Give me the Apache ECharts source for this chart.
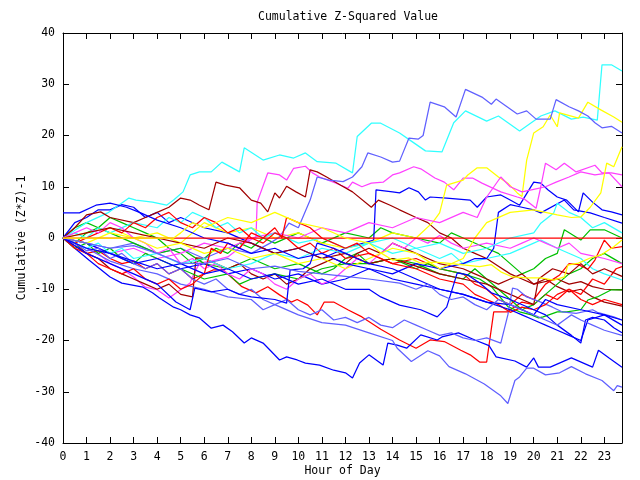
<!DOCTYPE html>
<html><head><meta charset="utf-8">
<script src="https://cdn.jsdelivr.net/npm/echarts@6/dist/echarts.min.js"></script>
<style>html,body{margin:0;padding:0;background:#fff}#c{width:640px;height:480px}</style>
</head><body><div id="c"></div>
<script>
// x = hour of day, y = cumulative (Z*Z)-1
const xTicks = [0,1,2,3,4,5,6,7,8,9,10,11,12,13,14,15,16,17,18,19,20,21,22,23];
const yTicks = [-40,-30,-20,-10,0,10,20,30,40];

const R0 = [[0,0],[4,0],[8,0],[12,0],[16,0],[20,0],[23.75,0]];
const G1 = [[0,0],[0.5,2],[1,3],[1.5,2],[2,4],[2.5,3],[3,2],[3.5,1],[4,0],[4.5,-2],[5,-3],[5.5,-5],[6,-4],[6.5,-2],[7,-3],[7.5,-1],[8,-2],[8.5,0],[9,-1],[10,1],[10.5,0],[11,-1],[12,1],[13,0],[13.5,2],[14,1],[15,0],[16,-1],[16.5,1],[17,0],[18,-2],[18.5,-3],[19,-5],[19.5,-7],[20,-6],[20.5,-4],[21,-3],[21.3,1.6],[22,-0.4],[22.4,1.6],[23,1.6],[23.75,0]];
const B2 = [[0,0],[0.5,3],[1,4],[1.5,5.5],[2,5.5],[2.5,6.5],[3,6],[3.5,4],[4,5],[4.5,3],[5,4],[6,2],[7,1],[8,-1],[9,-3],[10,-2],[11,-4],[12,-2],[13.2,-0.4],[13.3,9.4],[14,9],[14.3,8.8],[14.7,9.8],[15.1,9],[15.4,7.4],[15.6,8],[16.3,7.8],[17.3,7.4],[17.6,6],[18,8],[18.6,8.4],[19,7.4],[19.4,6.4],[20,10.9],[20.3,10.7],[20.6,9.4],[21,8],[21.4,7.4],[21.9,5.1],[22.1,8.8],[22.5,7],[22.9,5.5],[23.3,5.1],[23.75,4.5]];
const M1 = [[0,0],[0.5,-1],[1,-2],[1.5,-3],[2,-5],[2.5,-6],[3,-7.6],[3.5,-9.6],[4,-10.1],[4.5,-11.7],[5,-10.1],[5.4,-8.8],[5.5,-7.6],[5.8,-4.9],[6.3,-4.5],[7,-3.7],[7.4,-2.3],[7.7,-1],[8.2,0.2],[8.25,7],[8.7,12.7],[9.2,12.3],[9.5,11.3],[9.8,13.6],[10.3,14],[10.6,12.7],[10.9,11.9],[11.6,10.7],[12.1,9.7],[12.3,10.9],[12.7,10],[13.1,10.7],[13.6,10.9],[14,12.3],[14.3,12.7],[14.9,13.9],[15.2,13.5],[15.8,11.7],[16.2,10.9],[16.6,9.4],[17,11.7],[17.4,11.7],[17.8,10.7],[18.6,9],[19.3,8],[19.6,7.6],[20.1,5.8],[20.3,10],[20.5,14.6],[20.95,13.3],[21.3,14.6],[21.8,12.9],[22.6,14.2],[22.9,12.7],[23.3,12.7],[23.75,12.3]];
const C1 = [[0,0],[0.5,1.5],[1,3],[1.9,4.9],[2.8,7.8],[3.1,7.4],[3.8,7],[4.4,6.4],[4.7,7.4],[5.1,9],[5.4,12.3],[5.8,12.9],[6.3,12.9],[6.75,14.8],[7.5,12.9],[7.7,17.6],[8.5,15.2],[9.2,16.2],[9.8,15.6],[10.3,16.6],[10.8,14.9],[11.6,14.6],[12.3,12.7],[12.5,19.8],[13.1,22.4],[13.5,22.4],[14.3,20.5],[14.8,18.9],[15.4,17],[16.1,16.8],[16.6,22.5],[17.1,24.8],[18,22.8],[18.5,23.8],[19.4,20.9],[20.3,23.8],[20.9,24.8],[21.6,23.2],[22.1,23.6],[22.7,23],[22.9,33.8],[23.3,33.8],[23.75,32.6]];
const DR1 = [[0,0],[0.5,2],[1,4.5],[1.6,5.1],[2,4],[3,3],[3.5,4],[4,5],[4.5,6],[5,7.8],[5.4,7.4],[5.8,6.4],[6.2,5.5],[6.5,10.9],[6.9,10.3],[7.5,9.8],[8,7.4],[8.4,6.8],[8.7,5.1],[9,8.8],[9.2,7.8],[9.5,10.1],[9.9,9],[10.3,8],[10.5,13.3],[10.8,12.9],[11.2,11.9],[11.8,10.3],[12.3,9],[13.1,6],[13.4,7.4],[13.9,6.4],[14.3,5.5],[15,4],[15.5,3],[16,1],[16.5,0],[17,-2],[17.5,-3],[18,-4],[18.5,-5.5],[19,-7],[19.5,-8],[20,-9],[20.5,-8],[21,-9.5],[21.5,-10.5],[22,-10],[22.5,-11.5],[23,-12.5],[23.75,-13.3]];
const Y1 = [[0,0],[1,1],[2,2],[3,0],[4,1],[5,-1],[6,3],[7,1],[8,2],[9,0],[10,1],[11,-1],[12,-2],[13,-1],[14,1],[15,0],[15.7,3],[16,4.9],[16.3,10.3],[17,11.3],[17.2,12.3],[17.6,13.7],[18,13.7],[18.5,11.9],[18.9,10.7],[19.3,8.8],[19.5,8.1],[19.7,15.2],[20,20.5],[20.4,21.7],[20.7,24],[21,21.7],[21.1,24.4],[21.9,23.4],[22.3,26.5],[22.85,25],[23.4,23.6],[23.75,22.6]];
const SB1 = [[0,0],[1,-1],[2,-2],[3,-1],[4,-3],[5,-2],[6,-4],[7,-2],[8,-3],[8.8,-1],[9.2,0.2],[9.6,2.9],[10,2],[10.5,7.4],[10.8,11.9],[11.3,11.3],[11.9,11],[12.3,11.9],[12.7,13.9],[12.95,16.6],[13.5,15.8],[14,14.8],[14.3,15],[14.7,19.5],[15.1,19.3],[15.3,20],[15.6,26.5],[16.2,25.6],[16.7,23.6],[17.1,29],[17.8,27.5],[18.2,26.1],[18.4,27.1],[19.3,24.2],[19.7,24.8],[20.1,23.2],[20.7,23.2],[20.95,27],[21.5,25.6],[21.9,24.8],[22.3,23.8],[22.6,22.5],[22.9,21.5],[23.3,21.8],[23.75,20.5]];
const R1 = [[0,0],[0.5,-1.5],[1,-3],[1.5,-2.5],[2,-4],[2.5,-5],[3,-4.5],[3.5,-6],[4,-5],[4.5,-7],[5,-6],[5.5,-8],[6,-7],[6.4,-6.2],[6.8,-6.2],[7.6,-9.5],[8.2,-10.7],[8.7,-9.5],[9.2,-11.1],[9.7,-12.5],[9.95,-12],[10.4,-13.1],[10.8,-15],[11.1,-12.5],[11.5,-12.5],[12.1,-14],[12.7,-15.4],[13.5,-17.8],[14.3,-19.9],[15,-21.5],[15.6,-19.9],[16.2,-20.2],[16.9,-21.9],[17.3,-22.8],[17.7,-24.2],[18,-24.2],[18.3,-14.4],[18.9,-14.4],[19.1,-13.7],[19.5,-12.5],[20,-13],[20.5,-11],[21,-12],[21.5,-10],[22,-11],[22.5,-8],[23,-9],[23.5,-6],[23.75,-5.6]];
const G2 = [[0,0],[0.5,-1],[1,1],[1.5,2],[2,1],[3,-1],[4,-3],[5,-2],[6,-5],[7,-6],[8,-4],[9,-6],[10,-5],[11,-7],[11.5,-6],[12,-4],[12.5,-3],[13,-5],[14,-4],[15,-5],[16,-7],[17,-8],[17.5,-6],[18,-8],[18.5,-10],[19,-12],[19.5,-14],[20,-13],[20.5,-11],[21,-9],[21.5,-7],[22,-6],[22.5,-4],[23,-3],[23.75,-5]];
const B1 = [[0,0],[0.5,-2],[1.1,-4.3],[2,-7.6],[2.5,-8.8],[3.4,-9.6],[3.8,-10.7],[4.1,-11.7],[4.7,-13.5],[5,-14],[5.4,-15],[5.8,-15.6],[6.3,-17.6],[6.8,-17],[7.2,-18.3],[7.7,-20.5],[8,-19.5],[8.5,-20.5],[8.8,-21.9],[9.2,-23.8],[9.5,-23.2],[9.95,-23.8],[10.3,-24.4],[10.9,-24.8],[11.5,-25.8],[12,-26.3],[12.3,-27.3],[12.6,-24.4],[13,-22.8],[13.6,-24.8],[13.8,-20.5],[14.2,-20.9],[14.6,-21.5],[15.2,-18.9],[15.9,-19.9],[16.1,-19.3],[16.8,-18.5],[17.5,-19.9],[18.1,-21],[18.4,-23.2],[19.2,-24],[19.7,-25.2],[20,-23.4],[20.2,-25.2],[20.7,-25.2],[21.6,-23.4],[22.5,-25.2],[22.75,-21.9],[23.2,-23.4],[23.75,-25.2]];
const M2 = [[0,0],[1,-1],[2,-3],[3,-2],[4,-4],[5,-3],[6,-1],[7,-2],[8,0],[9,1],[10,0],[11,2],[12,1],[13,3],[14,2],[15,4],[16,3],[17,5],[17.6,4],[18,8],[18.6,11.9],[19,10],[19.5,9],[20,9.5],[20.5,10],[20.95,10.9],[21.5,11.9],[22,12.9],[22.6,12.3],[23.2,12.7],[23.75,10]];
const C2 = [[0,0],[0.5,1],[1,0],[1.5,2],[2,1],[3,3],[4,2],[4.5,4],[5,3],[5.5,5],[6,4],[6.5,2],[7,3],[7.5,1],[8,2],[8.5,0],[9,1],[10,-1],[11,0],[12,-2],[13,-1],[14,-3],[15,-2],[16,-4],[16.5,-3],[17,-5],[18,-4],[19,-3],[20,-1],[20.3,-0.4],[21,-2],[22,-4],[22.5,-6],[23,-7],[23.75,-8.2]];
const DR2 = [[0,0],[0.5,-1],[1,-3],[1.5,-4],[2,-6],[2.5,-7],[3,-8],[3.5,-9],[4,-10],[4.5,-9],[5,-11],[5.5,-11.5],[5.65,-3.9],[6,-4],[6.5,-5],[7,-6],[7.5,-5],[8,-7],[8.5,-8],[9,-7],[9.5,-9],[10,-8],[10.5,-6],[11,-5],[11.5,-4],[12,-5],[12.5,-3],[13,-2],[13.5,-3],[14,-1],[14.5,-2],[15,-3],[15.5,-4],[16,-5],[17,-6],[17.5,-7],[18,-8],[18.5,-9],[19,-8],[19.5,-7],[20,-9],[21,-8],[21.5,-9],[22,-8.5],[22.5,-9.5],[23,-10],[23.75,-10.1]];
const Y3 = [[0,0],[2,0],[4.7,0],[5,1],[5.5,3],[6,2],[7,4],[8,3],[9,5],[10,3],[11,2],[12,0],[13,-1],[13.5,-2.9],[14,-4.3],[14.7,-3.9],[15.2,-4.9],[15.8,-4.7],[16.3,-4.9],[17.7,-5.6],[18.2,-5.2],[18.6,-6.6],[19.1,-7.6],[19.7,-7.8],[20.3,-7.8],[20.85,-8.2],[21.3,-7.6],[21.45,-5.3],[21.9,-4.9],[22.4,-3.9],[22.85,-3.3],[23.4,-1.7],[23.75,-0.4]];
const SB2 = [[0,0],[1,-2],[2,-4.5],[3,-6],[4,-7],[5,-9],[6,-10],[7,-11.5],[8,-12],[8.5,-14],[9,-13],[10,-15],[11,-16.5],[12,-17],[13,-18.5],[14,-20],[14.2,-21.5],[14.8,-24.1],[15.5,-22],[16,-23],[16.4,-25.1],[17.1,-26.5],[17.9,-28.5],[18.6,-30.8],[18.9,-32.3],[19.2,-27.8],[19.4,-27.1],[19.7,-25.4],[20,-25.4],[20.5,-26.7],[21.1,-26.3],[21.6,-25.1],[22.2,-26.5],[22.9,-27.8],[23.4,-29.8],[23.55,-28.8],[23.75,-29.1]];
const R3 = [[0,0],[0.5,-1],[1,0],[1.5,1],[2,2],[2.5,1],[3,3],[3.5,2],[4,4],[4.5,5],[5,3],[5.5,2],[6,4],[6.5,3],[7,1],[7.5,2],[8,0],[8.5,-1],[9,1],[9.5,0],[10,-2],[10.5,-1],[11,-3],[11.5,-2],[12,-4],[13,-3],[14,-5],[15,-4],[16,-6],[17,-7],[17.5,-9],[18,-10],[18.5,-12],[19,-13],[19.5,-11],[20,-12],[20.5,-9],[21.1,-7.2],[21.5,-5],[21.9,-5.2],[22.3,-6.1],[22.6,-4.3],[23,-0.4],[23.3,-2],[23.75,-1.7]];
const G3 = [[0,0],[0.5,-2],[1,-1],[1.5,-3],[2,-2],[2.5,-4],[3,-5],[3.5,-3],[4,-4],[5,-6],[6,-8],[7,-7],[7.5,-9],[8,-8],[9,-7],[10,-8],[11,-6],[12,-5],[13,-5],[14,-4],[14.5,-5],[15,-6],[15.5,-5],[16,-6],[17,-7],[17.7,-8],[18.2,-9.5],[18.6,-11.7],[18.9,-13.4],[19.4,-14.4],[19.9,-15],[20.2,-15.6],[20.4,-15.4],[21,-14.4],[21.4,-14.4],[22,-14],[22.3,-12.1],[22.7,-11.5],[23.3,-10.1],[23.75,-10.1]];
const B3 = [[0,0],[1,-1],[2,-3],[3,-5],[4,-4],[5,-6],[6,-5],[7,-7],[8,-6],[9,-8],[10,-7],[11,-9],[12,-8],[13,-6],[14,-7],[15,-5],[16,-6],[17,-5],[17.5,-4],[18,-4],[18.3,-2],[18.5,5],[19,6.5],[19.5,6],[20,5.5],[20.3,4.9],[21.3,7.4],[21.7,5.5],[22.4,4.9],[23,4],[23.75,2.9]];
const M3 = [[0,0],[0.5,1],[1,2],[1.5,1],[2,3],[2.5,2],[3,0],[3.5,-1],[4,-3],[4.5,-2],[5,-5],[5.5,-4],[6,-6],[6.5,-5],[7,-7],[7.5,-8],[8,-6],[8.5,-7],[9,-9],[9.5,-10],[10,-8],[10.5,-7],[11,-9],[11.5,-8],[12,-6],[12.5,-4],[13,-5],[13.5,-3],[14,-1],[14.5,-2],[15,0],[15.5,-1],[16,0.5],[16.5,-1],[17,-2],[18,-1],[19,-2],[19.5,-1],[20,0],[20.5,-1],[21,-2],[21.5,-1],[22,-3],[22.5,-3.5],[23,-4],[23.75,-5]];
const C3 = [[0,0],[0.5,-1],[1,-2],[1.5,-1],[2,-3],[2.5,-2],[3,-4],[4,-3],[5,-5],[6,-4],[7,-6],[8,-5],[9,-3],[10,-4],[11,-2],[12,-3],[13,-1],[14,0],[15,-2],[16,-1],[17,-3],[18,-2],[19,0],[20,1],[20.3,2.9],[20.85,4.9],[21,6.8],[21.5,5],[22,4],[22.5,2],[23,3],[23.75,1]];
const DR3 = [[0,0],[1,1],[2,2],[3,1],[4,0],[5,-1],[6,-2],[7,0],[8,-1],[9,-3],[10,-2],[11,-4],[12,-3],[13,-5],[14,-4],[15,-5.5],[16,-7],[17,-8],[18,-9],[19,-11],[19.5,-12],[20,-13],[20.2,-8],[20.8,-6],[21.5,-7],[22,-5],[22.5,-7],[23,-6],[23.75,-7.5]];
const Y2 = [[0,0],[1,-1],[2,1],[3,0],[4,-2],[5,-1],[6,-3],[7,-2],[8,-4],[9,-3],[10,-5],[11,-4],[12,-6],[13,-4],[14,-2],[15,-3],[16,-6],[17,-4],[17.5,0],[18,3],[19,5],[20,5.5],[21,4.5],[21.6,4],[22,4.1],[22.4,6],[22.85,8.8],[23.1,14.6],[23.4,13.9],[23.75,17.8]];
const SB3 = [[0,0],[0.5,-1],[1,-2.5],[1.5,-2],[2,-4],[2.5,-3],[3,-5],[3.5,-6],[4,-5],[4.5,-7],[5,-6],[5.5,-8],[6,-9],[6.5,-8],[7,-10],[7.5,-11],[8,-10],[8.5,-12],[9,-13],[9.5,-12],[10,-14],[10.5,-15],[11,-14],[11.5,-16],[12,-15.5],[12.5,-16.5],[13,-15.5],[13.5,-17],[14,-17.5],[14.5,-16],[15,-17],[15.5,-18],[16,-19],[16.5,-18.5],[17,-19.5],[17.5,-20],[18,-19.5],[18.6,-20.5],[18.9,-15],[19.1,-9.8],[19.3,-10],[19.7,-11.5],[20.3,-12.5],[20.8,-13.5],[21.2,-14.4],[21.8,-14.7],[22.5,-14],[22.7,-14.5],[23.4,-15.4],[23.75,-16]];
const R4 = [[0,0],[0.5,-2],[1,-3],[1.5,-5],[2,-6],[2.5,-7],[3,-6],[3.5,-8],[4,-9],[4.5,-8],[5,-10],[5.5,-9],[6,-7],[6.3,-2],[6.7,-3],[7,-1],[7.5,-2],[8,1],[8.5,0],[9,2],[9.3,0],[9.5,4],[10,3],[10.5,2],[11,0],[11.5,-1],[12,-2],[12.5,-1],[13,-3],[13.5,-4],[14,-5],[15,-6],[16,-8],[17,-9],[17.5,-11],[18,-12],[18.5,-13],[19,-14.5],[19.5,-13.5],[20,-14],[20.5,-13],[21,-11],[21.5,-10],[22,-12],[22.5,-13],[23,-12],[23.75,-13]];
const B4 = [[0,0],[1,-2],[2,-3],[3,-4.5],[4,-6],[5,-5],[6,-7],[7,-6],[8,-8],[9,-7],[10,-9],[11,-8],[12,-10],[13,-10],[13.5,-11.5],[14.3,-13.1],[15.2,-14],[15.9,-15.4],[16.3,-13.5],[16.75,-6.8],[17.2,-7.2],[17.7,-8.8],[18.2,-10.7],[19,-12],[20,-14],[20.5,-15],[21,-17],[21.6,-19],[22,-20.5],[22.2,-16],[22.5,-15.5],[23,-16],[23.4,-17.5],[23.75,-18.5]];
const B5 = [[0,4.9],[0.7,4.9],[1.4,6.4],[2,6.8],[2.7,6],[3.3,4.9],[4,3.5],[5,2],[6,0],[7,-1],[8,-3],[9,-2],[10,-4],[11,-3],[12,-5],[13,-6],[14,-8],[15,-9],[16,-10],[17,-11],[18,-12.5],[19,-13],[20,-15],[20.5,-12],[21,-13],[22,-14],[23,-15],[23.75,-16]];
const B6 = [[0,0],[1,-3],[2,-5],[3,-7],[4,-9],[4.8,-12.5],[5.4,-14],[5.6,-9.8],[6.3,-10.5],[7,-10],[7.5,-11],[8,-11.5],[9,-12],[9.5,-12.7],[9.65,-6.2],[10.2,-6],[10.5,-5],[10.8,-1],[11.5,-2],[12,-3],[12.5,-4],[13,-5],[14,-6],[15,-8],[16,-10],[17,-11],[18,-12.5],[19,-14],[19.5,-15],[20,-16],[20.5,-17],[21,-18],[21.5,-19],[22,-20],[22.3,-16],[23,-15],[23.75,-17]];
const SB4 = [[0,0],[1,-1],[2,-2],[3,-1.5],[4,-3],[5,-4.9],[6,-5],[7,-4],[8,-6],[9,-5.5],[10,-6.5],[11,-7],[12,-7.5],[13,-8],[14.3,-8.8],[15,-10],[15.5,-9],[16,-11],[16.5,-12],[17,-11.5],[17.5,-13],[18,-14],[18.5,-12],[19,-13],[19.5,-14],[20,-15],[20.5,-16],[21,-17],[21.3,-16],[21.6,-15],[22,-16],[22.5,-17],[23,-18],[23.75,-19]];

const RED='#ff0000', GREEN='#00c000', BLUE='#0000ff', MAG='#ff40ff', CYAN='#30ffff', DRED='#a00000', YEL='#ffff00', SLATE='#6060ff';
const lines = [
  [G1,GREEN],[B2,BLUE],[M1,MAG],[C1,CYAN],[DR1,DRED],[Y1,YEL],[SB1,SLATE],
  [R1,RED],[G2,GREEN],[B1,BLUE],[M2,MAG],[C2,CYAN],[DR2,DRED],[SB2,SLATE],
  [R3,RED],[G3,GREEN],[B3,BLUE],[M3,MAG],[C3,CYAN],[DR3,DRED],[Y2,YEL],[SB3,SLATE],
  [R4,RED],[B4,BLUE],[B5,BLUE],[B6,BLUE],[SB4,SLATE],
  [R0,RED],[Y3,YEL]
];

const FONT = 'DejaVu Sans Mono';
const chart = echarts.init(document.getElementById('c'), null, {renderer:'canvas'});
const axisCommon = {
  axisLine:{show:true,onZero:false,lineStyle:{color:'#000',width:1}},
  axisTick:{show:true,inside:true,length:6,lineStyle:{color:'#000'}},
  splitLine:{show:false}
};
chart.setOption({
  animation:false,
  backgroundColor:'#fff',
  title:{text:'Cumulative Z-Squared Value',left:253,top:6,
    textStyle:{fontFamily:FONT,fontSize:11.5,fontWeight:'normal',color:'#000'}},
  grid:{left:63,right:18,top:33,bottom:37,containLabel:false,outerBoundsMode:'none'},
  xAxis:[
    Object.assign({type:'value',min:0,max:23.75,interval:1,position:'bottom',
      name:'Hour of Day',nameLocation:'middle',nameGap:22,nameMoveOverlap:false,
      nameTextStyle:{fontFamily:FONT,fontSize:11.5,color:'#000'},
      axisLabel:{fontFamily:FONT,fontSize:11.5,color:'#000',margin:8,showMaxLabel:false,
        formatter:v=>xTicks.indexOf(v)>=0?String(v):''}},axisCommon),
    Object.assign({type:'value',min:0,max:23.75,interval:1,position:'top',axisLabel:{show:false}},axisCommon)
  ],
  yAxis:[
    Object.assign({type:'value',min:-40,max:40,interval:10,position:'left',
      name:'Cumulative (Z*Z)-1',nameLocation:'middle',nameGap:35,nameRotate:90,nameMoveOverlap:false,
      nameTextStyle:{fontFamily:FONT,fontSize:11.5,color:'#000'},
      axisLabel:{fontFamily:FONT,fontSize:11.5,color:'#000',margin:8,
        formatter:v=>yTicks.indexOf(v)>=0?String(v):''}},axisCommon),
    Object.assign({type:'value',min:-40,max:40,interval:10,position:'right',axisLabel:{show:false}},axisCommon)
  ],
  series: lines.map(([d,c],i)=>({
    type:'line',name:'s'+i,data:d,xAxisIndex:0,yAxisIndex:0,
    showSymbol:false,symbol:'none',silent:true,
    lineStyle:{color:c,width:1.25},itemStyle:{color:c}
  }))
});
</script></body></html>
